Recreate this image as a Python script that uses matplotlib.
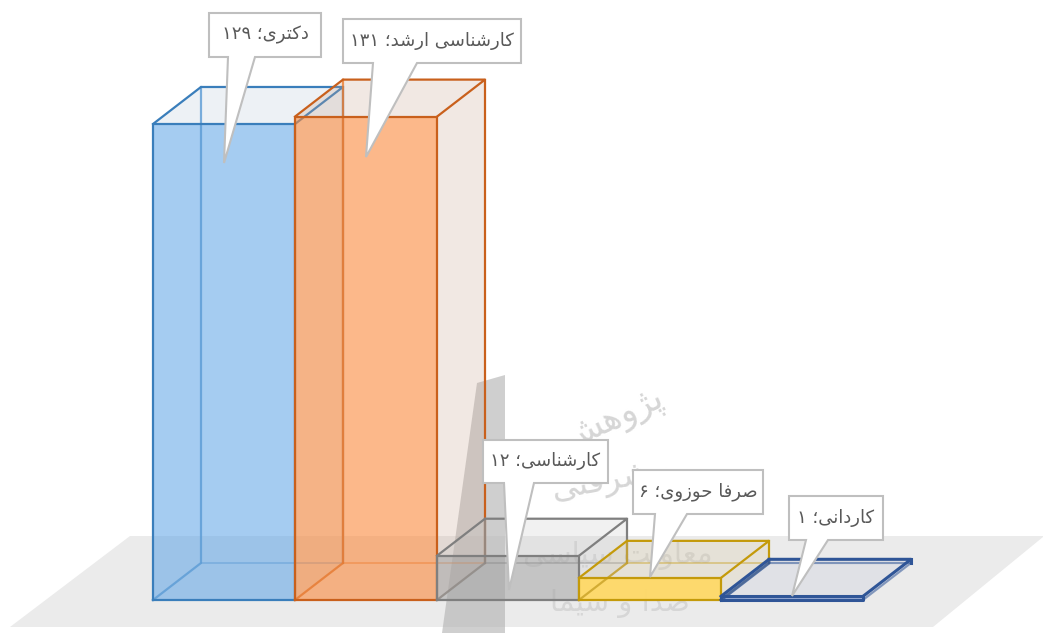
import matplotlib
matplotlib.use('Agg')
import matplotlib.pyplot as plt
from matplotlib.patches import Polygon
from matplotlib.transforms import Affine2D

names = ['دکتری', 'کارشناسی ارشد', 'کارشناسی', 'صرفا حوزوی', 'کاردانی']
values = [129, 131, 12, 6, 1]
watermark = ['پژوهش', 'پیشرفتی', 'معاونت سیاسی', 'صدا و سیما']

# front colour, front alpha, edge, inner edge, pale wall colour
front = ['#5BA3E6', '#FB8A3C', '#A5A5A5', '#FFD966', '#5B7CC4']
front_alpha = [0.55, 0.6, 0.55, 0.95, 0.6]
edges = ['#3A7EBB', '#C9601C', '#7F7F7F', '#C49A0A', '#2F5597']
inner = ['#5B9BD5', '#ED7D31', '#8C8C8C', '#C9A227', '#2F5597']
walls = ['#B8C8D8', '#C8A490', '#C8C8C8', '#D4C49C', '#C0C4D8']

# arabic presentation forms: isolated, final, initial, medial
forms = {
    'ا': (0xFE8D, 0xFE8E), 'د': (0xFEA9, 0xFEAA), 'ر': (0xFEAD, 0xFEAE),
    'ز': (0xFEAF, 0xFEB0), 'ژ': (0xFB8A, 0xFB8B), 'و': (0xFEED, 0xFEEE),
    'پ': (0xFB56, 0xFB57, 0xFB58, 0xFB59), 'ت': (0xFE95, 0xFE96, 0xFE97, 0xFE98),
    'ح': (0xFEA1, 0xFEA2, 0xFEA3, 0xFEA4), 'س': (0xFEB1, 0xFEB2, 0xFEB3, 0xFEB4),
    'ش': (0xFEB5, 0xFEB6, 0xFEB7, 0xFEB8), 'ص': (0xFEB9, 0xFEBA, 0xFEBB, 0xFEBC),
    'ع': (0xFEC9, 0xFECA, 0xFECB, 0xFECC), 'ف': (0xFED1, 0xFED2, 0xFED3, 0xFED4),
    'ک': (0xFB8E, 0xFB8F, 0xFB90, 0xFB91), 'م': (0xFEE1, 0xFEE2, 0xFEE3, 0xFEE4),
    'ن': (0xFEE5, 0xFEE6, 0xFEE7, 0xFEE8), 'ه': (0xFEE9, 0xFEEA, 0xFEEB, 0xFEEC),
    'ی': (0xFBFC, 0xFBFD, 0xFBFE, 0xFBFF),
}


def shape(s):
    # matplotlib does no arabic shaping, so pick the joined forms and reverse
    out = []
    for i, c in enumerate(s):
        if c not in forms:
            out.append(c)
            continue
        f = forms[c]
        prev = s[i - 1] if i > 0 else ''
        nxt = s[i + 1] if i + 1 < len(s) else ''
        a = prev in forms and len(forms[prev]) == 4
        b = nxt in forms and len(f) == 4
        idx = 3 if a and b else 1 if a else 2 if b else 0
        out.append(chr(f[idx]))
    return ''.join(out[::-1])


def label(name, v):
    digits = str(v).translate(str.maketrans('0123456789', '۰۱۲۳۴۵۶۷۸۹'))
    return digits + ' ؛' + shape(name)


W, H = 1043, 633
fig = plt.figure(figsize=(W / 100, H / 100), dpi=100)
ax = fig.add_axes([0, 0, 1, 1])
ax.axis('off')

# 142 px per category, 3.69 px per unit, baseline at y=600
ax.set_xlim(-153 / 142, (W - 153) / 142)
ax.set_ylim(-33 / 3.69, 600 / 3.69)
dx = 48 / 142
dy = 37 / 3.69

pix = Affine2D().scale(1, -1).translate(0, H)

# floor and watermark
ax.add_patch(Polygon([(130, 536), (1043, 536), (1043, 537), (933, 627), (10, 627)],
                     closed=True, fc='#EBEBEB', ec='none', transform=pix, zorder=0))
ax.add_patch(Polygon([(477, 383), (505, 375), (505, 633), (442, 633)],
                     closed=True, fc='#B0B0B0', ec='none', alpha=0.6, transform=pix, zorder=1))
wm_pos = [(614, 420, 25, 25), (612, 480, 24, 10), (618, 556, 21, 0), (620, 603, 21, 0)]
for t, (x, y, s, r) in zip(watermark, wm_pos):
    ax.text(x, y, shape(t), transform=pix, fontsize=s, color='#D6D6D6', rotation=r,
            ha='center', va='center', family='DejaVu Sans', zorder=1)

for i, v in enumerate(values):
    # back, floor and side walls first, then the front face on top
    top = [(i, v), (i + 1, v), (i + 1 + dx, v + dy), (i + dx, v + dy)]
    side = [(i + 1, 0), (i + 1 + dx, dy), (i + 1 + dx, v + dy), (i + 1, v)]
    z = 2 + i
    ax.add_patch(Polygon(top, closed=True, fc=walls[i], alpha=0.25, ec='none', zorder=z))
    ax.add_patch(Polygon(side, closed=True, fc=walls[i], alpha=0.25, ec='none', zorder=z))
    ax.bar(i, v, width=1, align='edge', color=front[i], alpha=front_alpha[i], zorder=z + 0.1)
    lw = 2.2 if v < 3 else 1.6
    ax.plot([i, i + dx, i + dx], [0, dy, v + dy], color=inner[i], lw=lw, alpha=0.8, zorder=z + 0.2)
    ax.plot([i + dx, i + 1 + dx], [dy, dy], color=inner[i], lw=lw * 0.7, alpha=0.55, zorder=z + 0.2)
    ax.plot([i + 1, i + 1 + dx], [0, dy], color=inner[i], lw=lw * 0.7, alpha=0.55, zorder=z + 0.2)
    ax.plot([i + 1 + dx, i + 1 + dx], [dy, v + dy], color=edges[i], lw=lw, zorder=z + 0.3)
    ax.plot([i, i + dx, i + 1 + dx, i + 1], [v, v + dy, v + dy, v], color=edges[i], lw=lw, zorder=z + 0.3)
    ax.plot([i, i + 1, i + 1, i, i], [0, 0, v, v, 0], color=edges[i], lw=lw, zorder=z + 0.3)

# callouts: box left, top, right, bottom, tail base left, tail base right, tip x, tip y
boxes = [(209, 13, 321, 57, 228, 255, 224, 163),
         (343, 19, 521, 63, 373, 417, 366, 157),
         (483, 440, 608, 483, 504, 534, 509, 590),
         (633, 470, 763, 514, 655, 687, 650, 577),
         (789, 496, 883, 540, 806, 828, 792, 596)]
for n, v, (l, t, r, b, t0, t1, tx, ty) in zip(names, values, boxes):
    pts = [(l, t), (r, t), (r, b), (t1, b), (tx, ty), (t0, b), (l, b)]
    ax.add_patch(Polygon(pts, closed=True, fc='white', ec='#BFBFBF', lw=1.5,
                         transform=pix, zorder=10, joinstyle='miter'))
    ax.text((l + r) / 2, (t + b) / 2, label(n, v), transform=pix, fontsize=13,
            color='#595959', ha='center', va='center', family='DejaVu Sans', zorder=11)

fig.savefig('out.png', dpi=100)
